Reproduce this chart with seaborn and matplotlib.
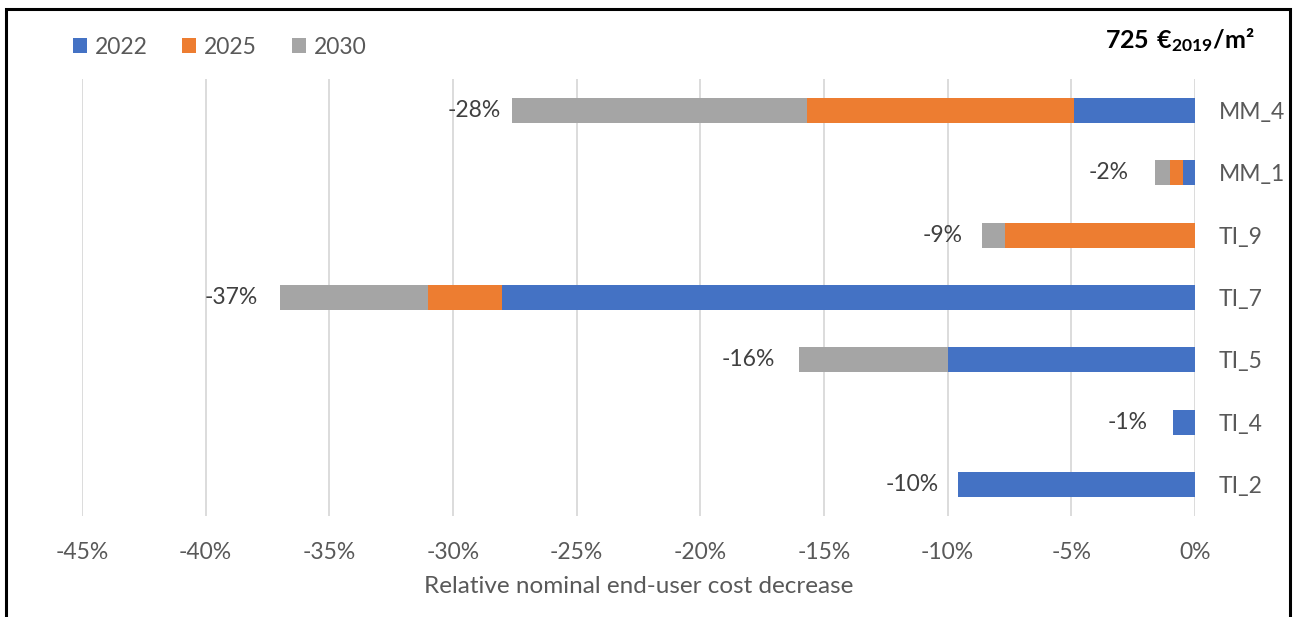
import matplotlib
matplotlib.use("Agg")
import matplotlib.pyplot as plt
from matplotlib.patches import Patch, Rectangle
from matplotlib.ticker import FuncFormatter, MultipleLocator
import numpy as np
import pandas as pd
import seaborn as sns

# Measures and the yearly cost decrease (in %) added by each step
measures = ["MM_4", "MM_1", "TI_9", "TI_7", "TI_5", "TI_4", "TI_2"]
dec_2022 = [-4.9, -0.5, 0.0, -28.0, -10.0, -0.9, -9.6]
dec_2025 = [-10.8, -0.5, -7.7, -3.0, 0.0, 0.0, 0.0]
dec_2030 = [-11.9, -0.6, -0.9, -6.0, -6.0, 0.0, 0.0]
years = ["2022", "2025", "2030"]
colors = ["#4472C4", "#ED7D31", "#A5A5A5"]
total_labels = ["-28%", "-2%", "-9%", "-37%", "-16%", "-1%", "-10%"]

sns.set_theme(style="white")
plt.rcParams["font.family"] = ["Lato", "DejaVu Sans"]
plt.rcParams["mathtext.fontset"] = "custom"
plt.rcParams["mathtext.rm"] = "Lato"
plt.rcParams["mathtext.bf"] = "Lato:bold"

text_col = "#595959"

df = pd.DataFrame({"measure": measures, "y2022": dec_2022,
                   "y2025": dec_2025, "y2030": dec_2030})
df["c2022"] = df["y2022"]
df["c2025"] = df["c2022"] + df["y2025"]
df["c2030"] = df["c2025"] + df["y2030"]

fig = plt.figure(figsize=(12.98, 6.17), dpi=100)
ax = fig.add_axes([82 / 1298, 1 - 516 / 617, (1195 - 82) / 1298, (516 - 79) / 617])

# Stacked bars: draw the cumulative totals from the outermost layer inwards
for col, c in zip(["c2030", "c2025", "c2022"], colors[::-1]):
    sns.barplot(data=df, x=col, y="measure", order=measures, orient="h",
                color=c, width=0.4, saturation=1, ax=ax, zorder=3,
                linewidth=0)

ax.set_xlim(-45, 0)
ax.set_ylim(6.5, -0.5)
ax.xaxis.set_major_locator(MultipleLocator(5))
ax.xaxis.set_major_formatter(FuncFormatter(lambda v, p: f"{v:.0f}%"))
ax.grid(axis="x", color="#D9D9D9", linewidth=1.3, zorder=0)
ax.grid(axis="y", visible=False)
for s in ax.spines.values():
    s.set_visible(False)

ax.yaxis.tick_right()
ax.set_ylabel("")
ax.tick_params(axis="y", length=0, pad=17, labelsize=16.5, labelcolor=text_col)
ax.tick_params(axis="x", length=0, pad=19, labelsize=16.5, labelcolor=text_col)
ax.set_xlabel("Relative nominal end-user cost decrease", fontsize=17.5,
              color=text_col, labelpad=9)

# Total decrease written to the left of each bar
label_gap = [0.45, 1.1, 0.8, 0.9, 1.0, 1.0, 0.77]
for i, (tot, lab, gap) in enumerate(zip(df["c2030"], total_labels, label_gap)):
    ax.text(tot - gap, i, lab, ha="right", va="center", fontsize=16.5,
            color="#404040")

handles = [Patch(facecolor=c, edgecolor="none") for c in colors]
fig.legend(handles, years, loc="center left", bbox_to_anchor=(52 / 1298, 1 - 47 / 617),
           ncol=3, frameon=False, fontsize=16.5, handlelength=0.62, handleheight=0.62,
           handletextpad=0.35, columnspacing=1.5, labelcolor=text_col)

fig.text(1255 / 1298, 1 - 40 / 617, r"$\mathbf{725\ €_{2019}}$/m²", ha="right",
         va="center", fontsize=18, fontweight="bold", color="black")

# Chart frame
fig.patches.append(Rectangle((6 / 1298, -0.05), (1290 - 6) / 1298, 1.05 - 9 / 617,
                             transform=fig.transFigure, fill=False,
                             edgecolor="black", linewidth=2.2))

fig.savefig("out.png", dpi=100)
